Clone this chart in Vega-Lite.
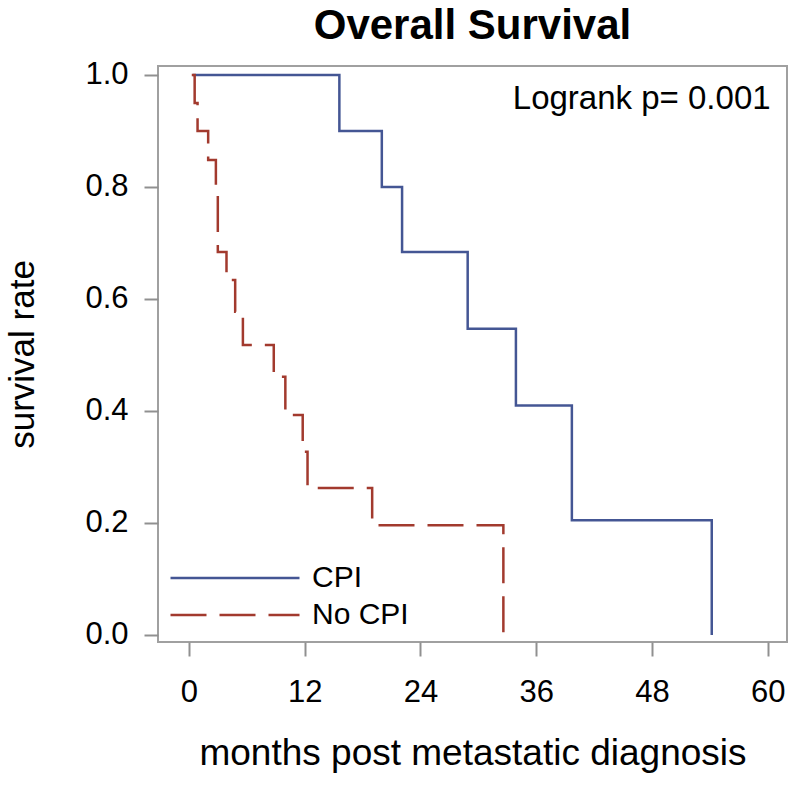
{
  "$schema": "https://vega.github.io/schema/vega-lite/v6.json",
  "autosize": "none",
  "width": 629,
  "height": 576,
  "padding": {"left": 158, "top": 66, "right": 13, "bottom": 145},
  "background": "white",
  "title": {
    "text": "Overall Survival",
    "font": "Liberation Sans",
    "fontSize": 42,
    "fontWeight": "bold",
    "color": "black",
    "anchor": "middle",
    "frame": "group",
    "baseline": "bottom",
    "offset": 14,
    "dy": 45
  },
  "config": {
    "view": {"stroke": "#a0a0a0", "strokeWidth": 2},
    "font": "Liberation Sans",
    "axis": {
      "domain": false,
      "grid": false,
      "tickColor": "#909090",
      "tickWidth": 2,
      "tickSize": 14,
      "labelFont": "Liberation Sans",
      "labelFontSize": 31,
      "labelColor": "black",
      "titleFont": "Liberation Sans",
      "titleFontWeight": "normal",
      "titleColor": "black"
    },
    "legend": {
      "title": null,
      "orient": "none",
      "legendX": 62,
      "legendY": 497,
      "padding": 0,
      "symbolType": "M-6.45,0H6.45",
      "symbolSize": 400,
      "symbolStrokeWidth": 2.5,
      "labelFontSize": 30,
      "labelFont": "Liberation Sans",
      "labelColor": "black",
      "labelOffset": 62,
      "rowPadding": 7
    }
  },
  "layer": [
    {
      "data": {
        "values": [
          {"group": "CPI", "months": 0.4, "survival": 1.0},
          {"group": "CPI", "months": 15.6, "survival": 0.9},
          {"group": "CPI", "months": 20.0, "survival": 0.8},
          {"group": "CPI", "months": 22.1, "survival": 0.684},
          {"group": "CPI", "months": 28.9, "survival": 0.547},
          {"group": "CPI", "months": 33.9, "survival": 0.41},
          {"group": "CPI", "months": 39.7, "survival": 0.205},
          {"group": "CPI", "months": 54.2, "survival": 0.0},
          {"group": "No CPI", "months": 0.3, "survival": 1.0},
          {"group": "No CPI", "months": 0.6, "survival": 0.95},
          {"group": "No CPI", "months": 0.9, "survival": 0.9},
          {"group": "No CPI", "months": 2.0, "survival": 0.848},
          {"group": "No CPI", "months": 2.8, "survival": 0.8},
          {"group": "No CPI", "months": 3.0, "survival": 0.684},
          {"group": "No CPI", "months": 3.9, "survival": 0.634},
          {"group": "No CPI", "months": 4.8, "survival": 0.577},
          {"group": "No CPI", "months": 5.6, "survival": 0.518},
          {"group": "No CPI", "months": 8.8, "survival": 0.461},
          {"group": "No CPI", "months": 10.0, "survival": 0.393},
          {"group": "No CPI", "months": 11.8, "survival": 0.327},
          {"group": "No CPI", "months": 12.3, "survival": 0.2625},
          {"group": "No CPI", "months": 19.0, "survival": 0.196},
          {"group": "No CPI", "months": 32.6, "survival": 0.0}
        ]
      },
      "mark": {"type": "line", "interpolate": "step-after", "strokeWidth": 2.5},
      "encoding": {
        "x": {
          "field": "months",
          "type": "quantitative",
          "scale": {"domain": [-3.2, 62.0], "nice": false, "zero": false},
          "axis": {
            "values": [0, 12, 24, 36, 48, 60],
            "format": "d",
            "labelPadding": 21,
            "title": "months post metastatic diagnosis",
            "titleFontSize": 37,
            "titlePadding": 28
          }
        },
        "y": {
          "field": "survival",
          "type": "quantitative",
          "scale": {"domain": [-0.0125, 1.016], "nice": false, "zero": false},
          "axis": {
            "values": [0, 0.2, 0.4, 0.6, 0.8, 1.0],
            "format": ".1f",
            "labelPadding": 16,
            "title": "survival rate",
            "titleFontSize": 35,
            "titlePadding": 44
          }
        },
        "color": {
          "field": "group",
          "type": "nominal",
          "scale": {"domain": ["CPI", "No CPI"], "range": ["#445694", "#A23A2E"]},
          "legend": {"title": null}
        },
        "strokeDash": {
          "field": "group",
          "type": "nominal",
          "scale": {"domain": ["CPI", "No CPI"], "range": [[1, 0], [36, 13]]},
          "legend": {"title": null}
        }
      }
    },
    {
      "data": {"values": [{}]},
      "mark": {
        "type": "text",
        "text": "Logrank p= 0.001",
        "align": "right",
        "baseline": "alphabetic",
        "font": "Liberation Sans",
        "fontSize": 33,
        "color": "black"
      },
      "encoding": {
        "x": {"datum": 60.3, "type": "quantitative"},
        "y": {"datum": 0.939, "type": "quantitative"}
      }
    }
  ]
}
